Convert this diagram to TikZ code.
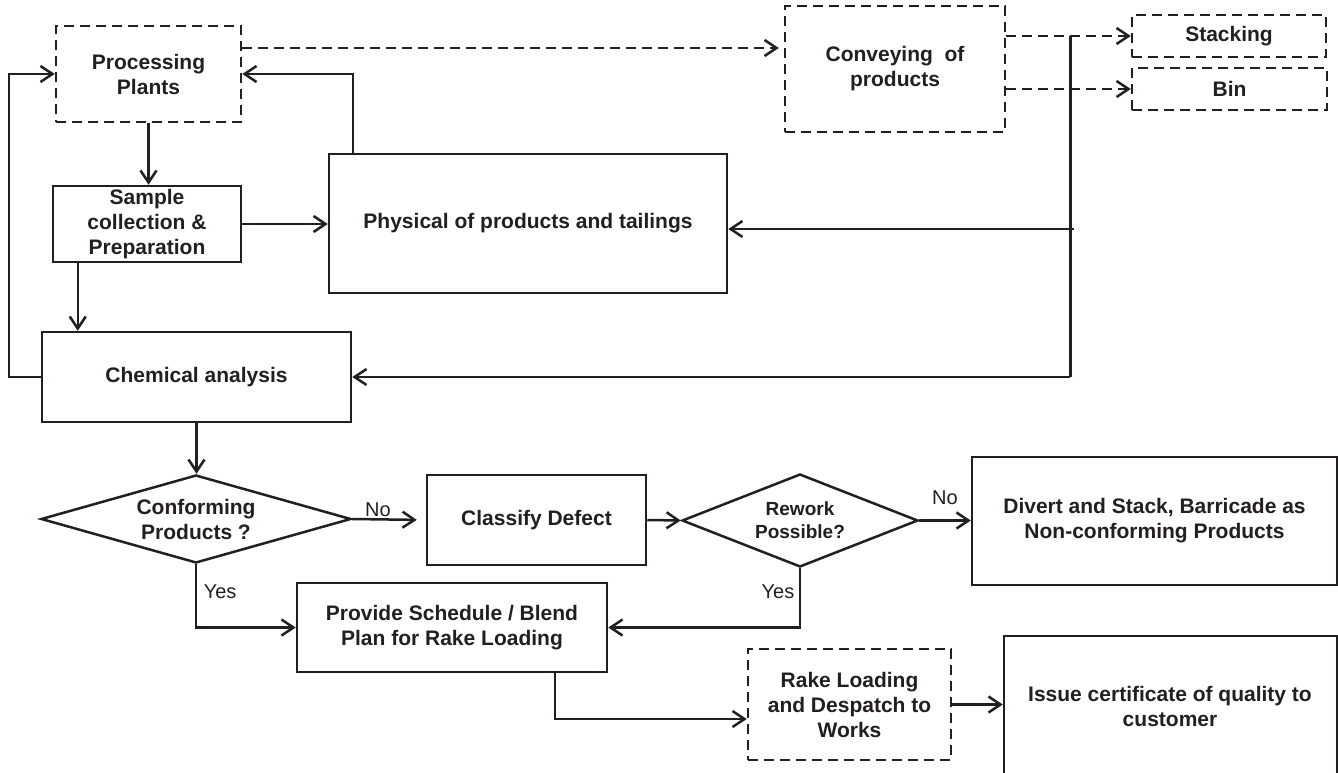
\documentclass[tikz,border=0pt]{standalone}
\usepackage{fontspec}
\setmainfont{Liberation Sans}
\usetikzlibrary{arrows.meta,shapes.geometric}
\definecolor{ink}{HTML}{231F20}

\begin{document}
\begin{tikzpicture}[x=1pt,y=-1pt,
  every node/.style={text=ink},
  base/.style={draw=ink, line width=2.5pt, inner sep=0pt, align=center,
               font=\bfseries\fontsize{21}{25}\selectfont},
  box/.style={base, rectangle},
  dbox/.style={box, dash pattern=on 10pt off 6pt},
  dec/.style={base, diamond, shape aspect=#1},
  line/.style={draw=ink, line width=2.5pt},
  arr/.style={line, -{Straight Barb[length=12pt,width=16pt]}},
  darr/.style={arr, dash pattern=on 10pt off 6pt},
  lbl/.style={font=\fontsize{20}{24}\selectfont, inner sep=1.5pt}
]
\useasboundingbox (0,0) rectangle (1338,773);
\fill[white] (0,0) rectangle (1338,773);
\clip (0,0) rectangle (1338,773);

% upper part: plants, sampling and testing
\node[dbox, minimum width=185pt, minimum height=96pt] (proc) at (148.5,74) {Processing\\Plants};
\node[dbox, minimum width=220pt, minimum height=126pt] (conv) at (895,69) {Conveying\ \ of\\products};
\node[dbox, minimum width=194pt, minimum height=42pt] (stack) at (1229,36) {Stacking};
\node[dbox, minimum width=195pt, minimum height=42pt] (bin) at (1229.5,89) {Bin};
\node[box, minimum width=188pt, minimum height=76pt] (samp) at (147,224) {Sample\\collection \&\\Preparation};
\node[box, minimum width=398pt, minimum height=139pt] (phys) at (528,223.5) {Physical of products and tailings};
\node[box, minimum width=309pt, minimum height=90pt] (chem) at (196.5,377) {Chemical analysis};

% lower part: decisions and despatch
\node[dec=3.5, minimum width=310pt, minimum height=88pt] (conf) at (196,519) {Conforming\\Products ?};
\node[box, minimum width=219pt, minimum height=90pt] (class) at (536.5,520) {Classify Defect};
\node[dec=2.6, minimum width=236pt, minimum height=93pt,
      font=\bfseries\fontsize{19}{23}\selectfont] (rew) at (800,520.5) {Rework\\Possible?};
\node[box, minimum width=365pt, minimum height=128pt] (div) at (1154.5,521) {Divert and Stack, Barricade as\\Non-conforming Products};
\node[box, minimum width=310pt, minimum height=89pt] (prov) at (452,627.5) {Provide Schedule / Blend\\Plan for Rake Loading};
\node[dbox, minimum width=203pt, minimum height=111pt] (rake) at (849.5,704.5) {Rake Loading\\and Despatch to\\Works};
\node[box, minimum width=333pt, minimum height=200pt] (issue) at (1170.5,736) {};
\node[align=center, inner sep=0pt, font=\bfseries\fontsize{21}{25}\selectfont] (issuetxt) at (1170,706.5) {Issue certificate of quality to\\customer};

% connectors, upper part
\draw[arr] (proc.south) -- (proc.south |- samp.north);
\draw[arr] (samp.east) -- (samp.east -| phys.west);
\path ([xshift=25pt]phys.north west) coordinate (pt);
\draw[arr] (pt) |- (proc.east);
\path ([xshift=26pt]samp.south west) coordinate (sb);
\draw[arr] (sb) -- (sb |- chem.north);
\draw[arr] (chem.west) -- ++(-32,0) |- (proc.west);

\path ([yshift=26pt]proc.east) coordinate (pe);
\draw[darr, shorten >=5pt] (pe) -- (pe -| conv.west);
\draw[darr] (conv.east |- stack.west) -- (stack.west);
\draw[darr] (conv.east |- bin.west) -- (bin.west);

\path (conv.east |- stack.west) ++(64,0) coordinate (j1);
\path (j1 |- chem.east) coordinate (j2);
\draw[line] (j1) -- (j2);
\draw[arr] (j2) -- (chem.east);
\path ([yshift=-5.5pt]phys.east) coordinate (pa);
\path (j1 |- pa) ++(4,0) coordinate (j3);
\draw[arr] (j3) -- (pa);

% connectors, lower part
\draw[arr] (chem.south) -- (chem.south |- conf.north);
\draw[arr, shorten >=9pt] (conf.east) -- (class.west)
  node[lbl, above, pos=0.35] {No};
\draw[arr] (class.east) -- (rew.west);
\draw[arr] (rew.east) -- (rew.east -| div.west)
  node[lbl, above=13pt, pos=0.5] {No};
\draw[arr] (rew.south) |- (prov.east)
  node[lbl, left=3pt, pos=0.2] {Yes};
\draw[arr] (conf.south) |- (prov.west)
  node[lbl, right=5pt, pos=0.22] {Yes};
\path ([xshift=103pt]prov.south) coordinate (pb);
\path ([yshift=-14.5pt]rake.west) coordinate (rw);
\draw[arr] (pb) |- (rw);
\draw[arr] (rake.east) -- (rake.east -| issue.west);
\end{tikzpicture}
\end{document}
